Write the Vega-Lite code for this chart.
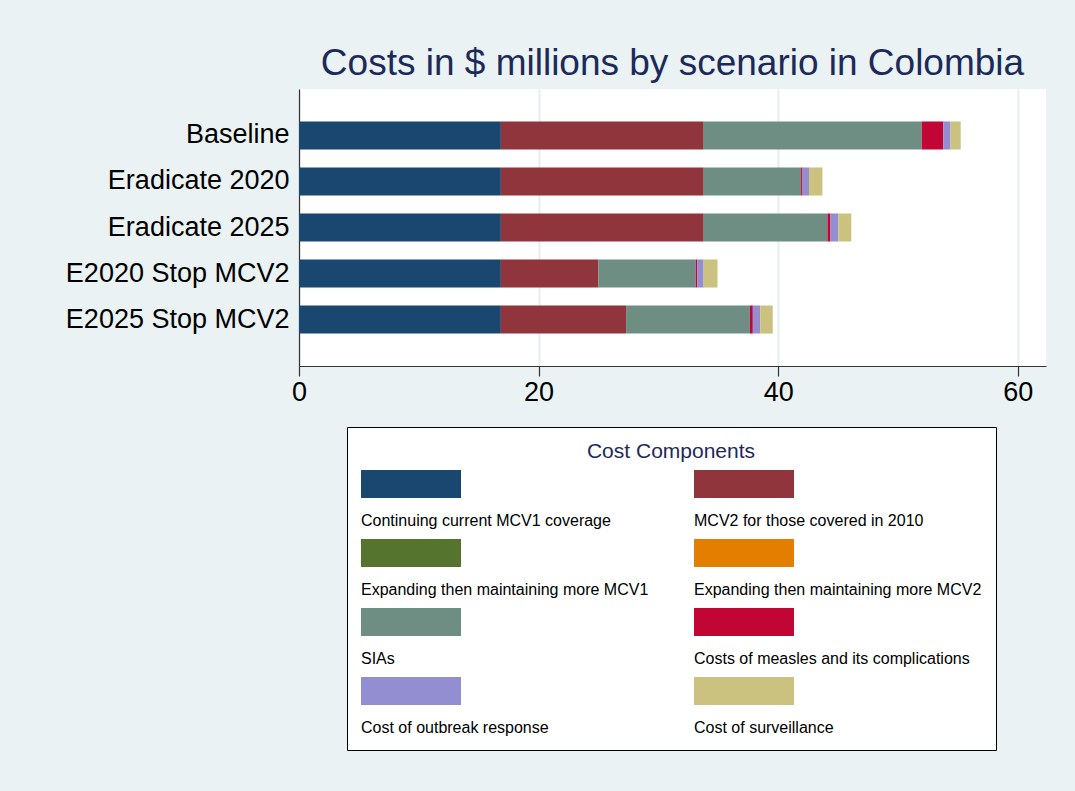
{
  "$schema": "https://vega.github.io/schema/vega-lite/v6.json",
  "autosize": {"type": "none"},
  "padding": {"left": 299, "top": 89, "right": 29, "bottom": 425},
  "width": 747,
  "height": 277,
  "background": "#eaf2f3",
  "title": {
    "text": "Costs in $ millions by scenario in Colombia",
    "fontSize": 37,
    "fontWeight": "normal",
    "color": "#1c2a5a",
    "anchor": "middle",
    "baseline": "alphabetic",
    "offset": -23
  },
  "config": {
    "font": "Liberation Sans",
    "view": {"fill": "white", "stroke": null}
  },
  "data": {
    "values": [
      {"scenario": "Baseline", "component": "\u00a0Continuing current MCV1 coverage", "k": 1, "cost": 16.85},
      {"scenario": "Baseline", "component": "\u00a0MCV2 for those covered in 2010", "k": 2, "cost": 16.93},
      {"scenario": "Baseline", "component": "SIAs", "k": 5, "cost": 18.2},
      {"scenario": "Baseline", "component": "Costs of measles and its complications", "k": 6, "cost": 1.8},
      {"scenario": "Baseline", "component": "Cost of outbreak response", "k": 7, "cost": 0.6},
      {"scenario": "Baseline", "component": "Cost of surveillance", "k": 8, "cost": 0.85},
      {"scenario": "Eradicate 2020", "component": "\u00a0Continuing current MCV1 coverage", "k": 1, "cost": 16.85},
      {"scenario": "Eradicate 2020", "component": "\u00a0MCV2 for those covered in 2010", "k": 2, "cost": 16.93},
      {"scenario": "Eradicate 2020", "component": "SIAs", "k": 5, "cost": 8.13},
      {"scenario": "Eradicate 2020", "component": "Costs of measles and its complications", "k": 6, "cost": 0.12},
      {"scenario": "Eradicate 2020", "component": "Cost of outbreak response", "k": 7, "cost": 0.54},
      {"scenario": "Eradicate 2020", "component": "Cost of surveillance", "k": 8, "cost": 1.12},
      {"scenario": "Eradicate 2025", "component": "\u00a0Continuing current MCV1 coverage", "k": 1, "cost": 16.85},
      {"scenario": "Eradicate 2025", "component": "\u00a0MCV2 for those covered in 2010", "k": 2, "cost": 16.93},
      {"scenario": "Eradicate 2025", "component": "SIAs", "k": 5, "cost": 10.33},
      {"scenario": "Eradicate 2025", "component": "Costs of measles and its complications", "k": 6, "cost": 0.25},
      {"scenario": "Eradicate 2025", "component": "Cost of outbreak response", "k": 7, "cost": 0.66},
      {"scenario": "Eradicate 2025", "component": "Cost of surveillance", "k": 8, "cost": 1.08},
      {"scenario": "E2020 Stop MCV2", "component": "\u00a0Continuing current MCV1 coverage", "k": 1, "cost": 16.85},
      {"scenario": "E2020 Stop MCV2", "component": "\u00a0MCV2 for those covered in 2010", "k": 2, "cost": 8.13},
      {"scenario": "E2020 Stop MCV2", "component": "SIAs", "k": 5, "cost": 8.13},
      {"scenario": "E2020 Stop MCV2", "component": "Costs of measles and its complications", "k": 6, "cost": 0.12},
      {"scenario": "E2020 Stop MCV2", "component": "Cost of outbreak response", "k": 7, "cost": 0.54},
      {"scenario": "E2020 Stop MCV2", "component": "Cost of surveillance", "k": 8, "cost": 1.16},
      {"scenario": "E2025 Stop MCV2", "component": "\u00a0Continuing current MCV1 coverage", "k": 1, "cost": 16.85},
      {"scenario": "E2025 Stop MCV2", "component": "\u00a0MCV2 for those covered in 2010", "k": 2, "cost": 10.45},
      {"scenario": "E2025 Stop MCV2", "component": "SIAs", "k": 5, "cost": 10.33},
      {"scenario": "E2025 Stop MCV2", "component": "Costs of measles and its complications", "k": 6, "cost": 0.25},
      {"scenario": "E2025 Stop MCV2", "component": "Cost of outbreak response", "k": 7, "cost": 0.62},
      {"scenario": "E2025 Stop MCV2", "component": "Cost of surveillance", "k": 8, "cost": 1.04}
    ]
  },
  "mark": {"type": "bar"},
  "encoding": {
    "y": {
      "field": "scenario",
      "type": "nominal",
      "sort": ["Baseline", "Eradicate 2020", "Eradicate 2025", "E2020 Stop MCV2", "E2025 Stop MCV2"],
      "scale": {"paddingInner": 0.391, "paddingOuter": 0.706},
      "axis": {
        "title": null,
        "ticks": false,
        "labelFontSize": 27,
        "labelColor": "black",
        "labelPadding": 10,
        "domainColor": "#333333",
        "domainWidth": 1.2,
        "labelLimit": 400
      }
    },
    "x": {
      "field": "cost",
      "type": "quantitative",
      "stack": "zero",
      "scale": {"domain": [0, 62.35], "nice": false},
      "axis": {
        "title": null,
        "values": [0, 20, 40, 60],
        "tickSize": 10,
        "tickColor": "#333333",
        "tickWidth": 1.2,
        "labelFontSize": 27,
        "labelColor": "black",
        "labelPadding": 3,
        "labelFlush": false,
        "domainColor": "#333333",
        "domainWidth": 1.2,
        "grid": true,
        "gridColor": "#e6eef0",
        "gridWidth": 2
      }
    },
    "order": {"field": "k", "type": "quantitative"},
    "color": {
      "field": "component",
      "type": "nominal",
      "scale": {
        "domain": [
          "\u00a0Continuing current MCV1 coverage",
          "\u00a0MCV2 for those covered in 2010",
          "Expanding then maintaining more MCV1",
          "Expanding then maintaining more MCV2",
          "SIAs",
          "Costs of measles and its complications",
          "Cost of outbreak response",
          "Cost of surveillance"
        ],
        "range": ["#1a476f", "#90353b", "#55752f", "#e37e00", "#6e8e84", "#c10534", "#938dd2", "#cac27e"]
      },
      "legend": {
        "title": "Cost Components",
        "orient": "none",
        "direction": "horizontal",
        "legendX": 48,
        "legendY": 338,
        "columns": 2,
        "gridAlign": "all",
        "titleFontSize": 21,
        "titleFontWeight": "normal",
        "titleColor": "#1c2a5a",
        "titleAnchor": "middle",
        "titlePadding": 9,
        "labelFontSize": 16,
        "labelColor": "black",
        "labelLimit": 400,
        "labelOffset": -100,
        "symbolType": "M-1,-1.02H1V-0.46H-1Z",
        "symbolSize": 10000,
        "symbolStrokeWidth": 0,
        "symbolOpacity": 1,
        "padding": 14,
        "rowPadding": 10,
        "columnPadding": 45,
        "strokeColor": "black",
        "fillColor": "white"
      }
    }
  }
}
